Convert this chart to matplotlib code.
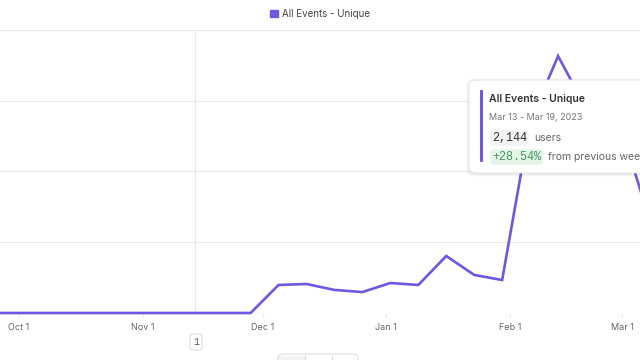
import datetime as dt
import matplotlib
matplotlib.use("Agg")
import matplotlib.pyplot as plt
import matplotlib.dates as mdates
from matplotlib.patches import Patch, FancyBboxPatch

# weekly unique users (week starting Monday)
week_starts = ["2022-09-26", "2022-10-03", "2022-10-10", "2022-10-17", "2022-10-24",
               "2022-10-31", "2022-11-07", "2022-11-14", "2022-11-21", "2022-11-28",
               "2022-12-05", "2022-12-12", "2022-12-19", "2022-12-26", "2023-01-02",
               "2023-01-09", "2023-01-16", "2023-01-23", "2023-01-30", "2023-02-06",
               "2023-02-13", "2023-02-20", "2023-02-27", "2023-03-06"]
users = [0, 0, 0, 0, 0, 0, 0, 0, 0, 0,
         198, 205, 163, 148, 212, 198, 403, 269, 233, 1350,
         1816, 1449, 1470, 834]
tick_dates = ["2022-10-01", "2022-11-01", "2022-12-01", "2023-01-01", "2023-02-01", "2023-03-01"]
tick_labels = ["Oct 1", "Nov 1", "Dec 1", "Jan 1", "Feb 1", "Mar 1"]
y_grid = [0, 500, 1000, 1500, 2000]
annotation_date = "2022-11-14"

series_name = "All Events - Unique"
tip_range = "Mar 13 - Mar 19, 2023"
tip_value = "2,144"
tip_change = "+28.54%"

PURPLE = "#7156e0"
GRID = "#e9e9e9"

plt.rcParams['font.family'] = ['Inter', 'DejaVu Sans']

def d(s):
    return mdates.date2num(dt.datetime.strptime(s, "%Y-%m-%d"))

def px(x, y):
    # pixel -> figure fraction
    return x / 640, 1 - y / 360

fig = plt.figure(figsize=(6.4, 3.6), dpi=100)
ax = fig.add_axes([0, 1 - 313 / 360, 1, (313 - 30) / 360])

x = [d(s) for s in week_starts]
ax.plot(x, users, color=PURPLE, lw=1.9, solid_joinstyle='miter', clip_on=False, zorder=5)

oct1 = d("2022-10-01")
ax.set_xlim(oct1 - 19 / 3.993, oct1 + 621 / 3.993)
ax.set_ylim(0, 2000)

for v in y_grid:
    ax.axhline(v, color=GRID, lw=0.9, zorder=1)
ax.axvline(d(annotation_date), color=GRID, lw=0.9, zorder=1)

for s in ax.spines.values():
    s.set_visible(False)
ax.set_yticks([])
ax.set_xticks([d(s) for s in tick_dates])
ax.set_xticklabels(tick_labels, fontsize=6.5, color="#666666")
ax.tick_params(axis='x', length=3, width=0.8, color=GRID, pad=4.5)

# legend
fig.legend(handles=[Patch(facecolor=PURPLE, edgecolor=PURPLE, label=series_name)],
           loc='upper center', bbox_to_anchor=(0.5, 1.0), frameon=False,
           handlelength=0.8, handleheight=0.8, handletextpad=0.4, fontsize=7,
           labelcolor="#444444")

# annotation marker "1"
fig.patches.append(FancyBboxPatch(px(190, 350), 12 / 640, 16 / 360, transform=fig.transFigure,
                                  boxstyle="round,pad=0,rounding_size=0.006",
                                  facecolor="white", edgecolor="#dddddd", lw=0.8))
fig.text(*px(196, 342), "1", ha='center', va='center', fontsize=7, color="#555555",
         family="Liberation Mono")

# segmented control peeking at the bottom
fig.patches.append(FancyBboxPatch(px(278, 366), 80 / 640, 12 / 360, transform=fig.transFigure,
                                  boxstyle="round,pad=0,rounding_size=0.01",
                                  facecolor="white", edgecolor="#dddddd", lw=0.8))
fig.patches.append(FancyBboxPatch(px(279, 366), 26 / 640, 10 / 360, transform=fig.transFigure,
                                  boxstyle="square,pad=0", facecolor="#f3f3f3", edgecolor="none"))
for xx in (305, 332):
    fig.add_artist(plt.Line2D([xx / 640, xx / 640], [0, 1 - 356 / 360], color="#dddddd", lw=0.8))

# tooltip
for off, a in ((3, 0.015), (2, 0.025), (1, 0.035)):
    fig.patches.append(FancyBboxPatch(px(469 - off, 174 + off), 200 / 640, (93 + 2 * off) / 360,
                                      transform=fig.transFigure,
                                      boxstyle="round,pad=0,rounding_size=0.015",
                                      facecolor="black", alpha=a, edgecolor="none", zorder=10))
fig.patches.append(FancyBboxPatch(px(469, 173), 200 / 640, 93 / 360, transform=fig.transFigure,
                                  boxstyle="round,pad=0,rounding_size=0.012",
                                  facecolor="white", edgecolor="#e6e6e6", lw=0.7, zorder=11))
fig.patches.append(FancyBboxPatch(px(480, 162), 3 / 640, 72 / 360, transform=fig.transFigure,
                                  boxstyle="round,pad=0,rounding_size=0.002",
                                  facecolor=PURPLE, edgecolor="none", zorder=12))
fig.text(*px(489, 99), series_name, ha='left', va='center', fontsize=7.5,
         fontweight='semibold', color="#333333", zorder=13)
fig.text(*px(489, 118), tip_range, ha='left', va='center', fontsize=6.5,
         color="#777777", zorder=13)
fig.text(*px(492, 138), tip_value, ha='left', va='center', fontsize=8.5,
         family="Liberation Mono", color="#333333", zorder=13,
         bbox=dict(boxstyle="round,pad=0.15,rounding_size=0.3", fc="#f2f2f2", ec="none"))
fig.text(*px(534, 138), "users", ha='left', va='center', fontsize=7.5,
         color="#666666", zorder=13)
fig.text(*px(492, 157), tip_change, ha='left', va='center', fontsize=8.5,
         family="Liberation Mono", color="#3f9b5e", zorder=13,
         bbox=dict(boxstyle="round,pad=0.15,rounding_size=0.3", fc="#e6f4ea", ec="none"))
fig.text(*px(548, 157), "from previous week", ha='left', va='center', fontsize=7.5,
         color="#666666", zorder=13)

fig.savefig("out.png", dpi=100)
